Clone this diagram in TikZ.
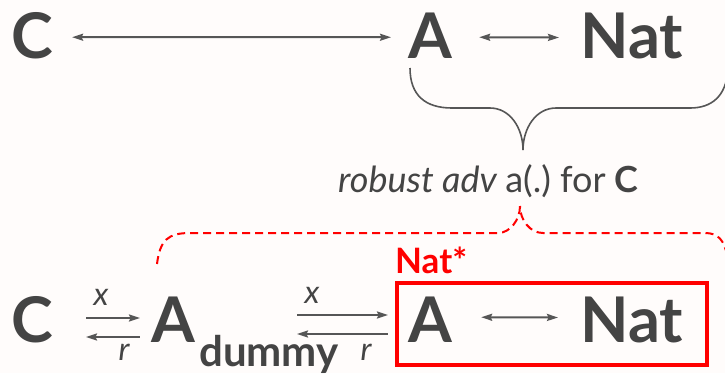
\documentclass[tikz,border=0pt]{standalone}
\usepackage{fontspec}
\setmainfont{Lato}
\usepackage{xcolor}
\usepackage{tikz}
\usetikzlibrary{arrows.meta}

\definecolor{ink}{HTML}{444444}
\definecolor{wire}{HTML}{565656}
\definecolor{paper}{HTML}{FFFCFB}
\definecolor{alarm}{HTML}{FF0000}

\begin{document}
\begin{tikzpicture}[x=1pt, y=-1pt, >={Stealth[length=11pt, width=7pt, inset=1.5pt]},
  big/.style={inner sep=0pt, anchor=base west, text=ink, font=\fontsize{63}{63}\selectfont\bfseries},
  sub/.style={inner sep=0pt, anchor=base west, text=ink, font=\fontsize{42}{42}\selectfont\bfseries},
  msg/.style={inner sep=0pt, anchor=base, text=ink, font=\fontsize{32}{32}\selectfont\itshape},
  link/.style={draw=wire, line width=2pt},
  brace/.style={draw=wire, line width=1.6pt},
  redbrace/.style={draw=alarm, line width=2pt, dash pattern=on 8pt off 5pt},
  redbox/.style={draw=alarm, line width=3.5pt, inner sep=0pt, minimum width=310pt, minimum height=82pt, anchor=north west}]
  \fill[paper] (0,0) rectangle (725,373);
  \useasboundingbox (0,0) rectangle (725,373);

  % top row
  \node[big] (c1) at (11,58) {C};
  \node[big] (a1) at (408,58) {A};
  \node[big] (n1) at (580,58) {Nat};
  \draw[link, <->] ([xshift=19pt, yshift=-2pt]c1.east) -- ([xshift=-17pt, yshift=-2pt]a1.west);
  \draw[link, <->] ([xshift=27pt, yshift=-2pt]a1.east) -- ([xshift=-21pt, yshift=-2pt]n1.west);

  % brace under A <-> Nat
  \coordinate (tip1) at (523,150);
  \draw[brace] (410,68) .. controls (410,95) and (425,108) .. (452,108) -- (490,108)
    .. controls (510,108) and (523,128) .. (tip1);
  \draw[brace] (728,70) .. controls (726,96) and (712,108) .. (690,108) -- (556,108)
    .. controls (536,108) and (523,128) .. (tip1);
  \node[inner sep=0pt, anchor=base west, text=ink, font=\fontsize{36}{36}\selectfont] (adv) at (338,192)
    {\itshape robust adv \upshape a(.)~for \bfseries C};

  % red dashed brace
  \coordinate (tip2) at (520,206);
  \draw[redbrace] (157,264) .. controls (160,240) and (168,233) .. (190,233) -- (498,233)
    .. controls (510,233) and (520,220) .. (tip2);
  \draw[redbrace] (727,255) .. controls (724,240) and (718,233) .. (705,233) -- (543,233)
    .. controls (530,233) and (520,220) .. (tip2);

  % bottom row
  \node[big] (c2) at (11,342) {C};
  \node[big] (a2) at (151,342) {A};
  \node[sub] (dm) at (199,366) {dummy};
  \node[redbox] (box) at (395,281) {};
  \node[inner sep=0pt, anchor=base west, text=alarm, font=\fontsize{35}{35}\selectfont\bfseries] (star) at (395,273) {Nat*};
  \node[big] (a3) at (408,342) {A};
  \node[big] (n3) at (580,342) {Nat};
  \draw[link, <->] ([xshift=29pt, yshift=2pt]a3.east) -- ([xshift=-22pt, yshift=2pt]n3.west);

  \coordinate (p1) at (86,318);
  \coordinate (q1) at (140,318);
  \coordinate (p2) at (86,337);
  \coordinate (q2) at (140,337);
  \draw[link, ->] (p1) -- (q1);
  \draw[link, <-] (p2) -- (q2);
  \node[msg] (x1) at (101,305) {x};
  \node[msg] (r1) at (124,360) {r};

  \draw[link, ->] (297,315) -- ([xshift=-7pt]box.west |- 0,315);
  \draw[link, <-] (297,334) -- ([xshift=-7pt]box.west |- 0,334);
  \node[msg] (x2) at (312,303) {x};
  \node[msg] (r2) at (366,360) {r};
\end{tikzpicture}
\end{document}
